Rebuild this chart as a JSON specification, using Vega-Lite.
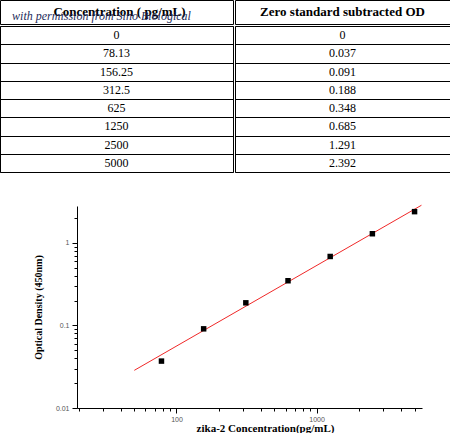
{
  "$schema": "https://vega.github.io/schema/vega-lite/v6.json",
  "description": "Standard curve table and log-log plot for zika-2 ELISA.",
  "padding": {"left": -1, "top": -1, "right": 0, "bottom": 0},
  "background": "white",
  "datasets": {
    "standards": [
      {"conc": 0, "od": 0},
      {"conc": 78.13, "od": 0.037},
      {"conc": 156.25, "od": 0.091},
      {"conc": 312.5, "od": 0.188},
      {"conc": 625, "od": 0.348},
      {"conc": 1250, "od": 0.685},
      {"conc": 2500, "od": 1.291},
      {"conc": 5000, "od": 2.392}
    ],
    "fit": [
      {"conc": 50, "od": 0.0286},
      {"conc": 5600, "od": 2.86}
    ]
  },
  "spacing": 30,
  "vconcat": [
    {
      "concat": [
        {
          "width": 233,
          "height": 24,
          "view": {"stroke": "black"},
          "data": {"values": [{"h": "Concentration ( pg/mL)"}]},
          "layer": [
            {
              "mark": {"type": "text", "font": "Liberation Serif", "fontWeight": "bold", "fontSize": 13, "dx": 3, "color": "black"},
              "encoding": {"text": {"field": "h", "type": "nominal"}}
            },
            {
              "mark": {"type": "text", "font": "Liberation Serif", "fontStyle": "italic", "fontSize": 12, "color": "#1e2b5a", "dx": -15, "dy": 4},
              "encoding": {"text": {"value": "with permission from Sino Biological"}}
            }
          ]
        },
        {
          "width": 215,
          "height": 24,
          "view": {"stroke": "black"},
          "data": {"values": [{"h": "Zero standard subtracted OD"}]},
          "mark": {"type": "text", "font": "Liberation Serif", "fontWeight": "bold", "fontSize": 13, "color": "black"},
          "encoding": {"text": {"field": "h", "type": "nominal"}}
        },
        {
          "width": 233,
          "height": 146,
          "view": {"stroke": "black"},
          "data": {"name": "standards"},
          "mark": {"type": "text", "font": "Liberation Serif", "fontSize": 12, "color": "black"},
          "encoding": {
            "y": {
              "field": "conc", "type": "ordinal", "sort": null,
              "scale": {"type": "band", "paddingInner": 0, "paddingOuter": 0},
              "axis": {"grid": true, "tickBand": "extent", "labels": false, "ticks": false, "domain": false, "title": null, "gridColor": "black", "gridOpacity": 1}
            },
            "text": {"field": "conc", "type": "nominal"}
          }
        },
        {
          "width": 215,
          "height": 146,
          "view": {"stroke": "black"},
          "data": {"name": "standards"},
          "mark": {"type": "text", "font": "Liberation Serif", "fontSize": 12, "color": "black"},
          "encoding": {
            "y": {
              "field": "conc", "type": "ordinal", "sort": null,
              "scale": {"type": "band", "paddingInner": 0, "paddingOuter": 0},
              "axis": {"grid": true, "tickBand": "extent", "labels": false, "ticks": false, "domain": false, "title": null, "gridColor": "black", "gridOpacity": 1}
            },
            "text": {"field": "od", "type": "nominal"}
          }
        }
      ],
      "columns": 2,
      "spacing": 0,
      "align": "each"
    },
    {
      "spacing": 0,
      "hconcat": [
        {
          "width": 33,
          "height": 1,
          "view": {"stroke": null},
          "data": {"values": []},
          "mark": "point"
        },
        {
          "width": 345,
          "height": 202,
          "view": {"stroke": null},
          "encoding": {
            "x": {
              "field": "conc",
              "type": "quantitative",
              "scale": {"type": "log", "domain": [19.5, 5650]},
              "axis": {
                "title": "zika-2  Concentration(pg/mL)",
                "values": [20, 30, 40, 50, 60, 70, 80, 90, 100, 200, 300, 400, 500, 600, 700, 800, 900, 1000, 2000, 3000, 4000, 5000],
                "format": "~g",
                "labelExpr": "datum.value == 100 || datum.value == 1000 ? datum.label : ''",
                "labelOverlap": false,
                "labelPadding": 2,
                "tickSize": {"condition": {"test": "datum.value == 100 || datum.value == 1000", "value": 5}, "value": 3},
                "titleX": 188,
                "titlePadding": 0
              }
            },
            "y": {
              "field": "od",
              "type": "quantitative",
              "scale": {"type": "log", "domain": [0.01, 2.8]},
              "axis": {
                "title": "Optical Density (450nm)",
                "values": [0.01, 0.02, 0.03, 0.04, 0.05, 0.06, 0.07, 0.08, 0.09, 0.1, 0.2, 0.3, 0.4, 0.5, 0.6, 0.7, 0.8, 0.9, 1, 2],
                "format": "~g",
                "labelExpr": "datum.value == 0.01 || datum.value == 0.1 || datum.value == 1 ? datum.label : ''",
                "labelOverlap": false,
                "tickSize": {"condition": {"test": "datum.value == 0.01 || datum.value == 0.1 || datum.value == 1", "value": 5}, "value": 3},
                "titleFontSize": 10,
                "titlePadding": 12
              }
            }
          },
          "layer": [
            {
              "data": {"name": "fit"},
              "mark": {"type": "line", "color": "#f02828", "strokeWidth": 1}
            },
            {
              "data": {"name": "standards"},
              "transform": [{"filter": "datum.conc > 0"}],
              "mark": {"type": "square", "color": "black", "filled": true, "opacity": 1, "size": 30}
            }
          ]
        }
      ]
    }
  ],
  "config": {
    "axis": {
      "grid": false,
      "domainColor": "black",
      "tickColor": "black",
      "labelFont": "Liberation Sans",
      "labelFontSize": 7,
      "labelColor": "#555555",
      "labelPadding": 3,
      "titleFont": "Liberation Serif",
      "titleFontWeight": "bold",
      "titleFontSize": 11,
      "titleColor": "black",
      "labelFlush": false
    }
  }
}
